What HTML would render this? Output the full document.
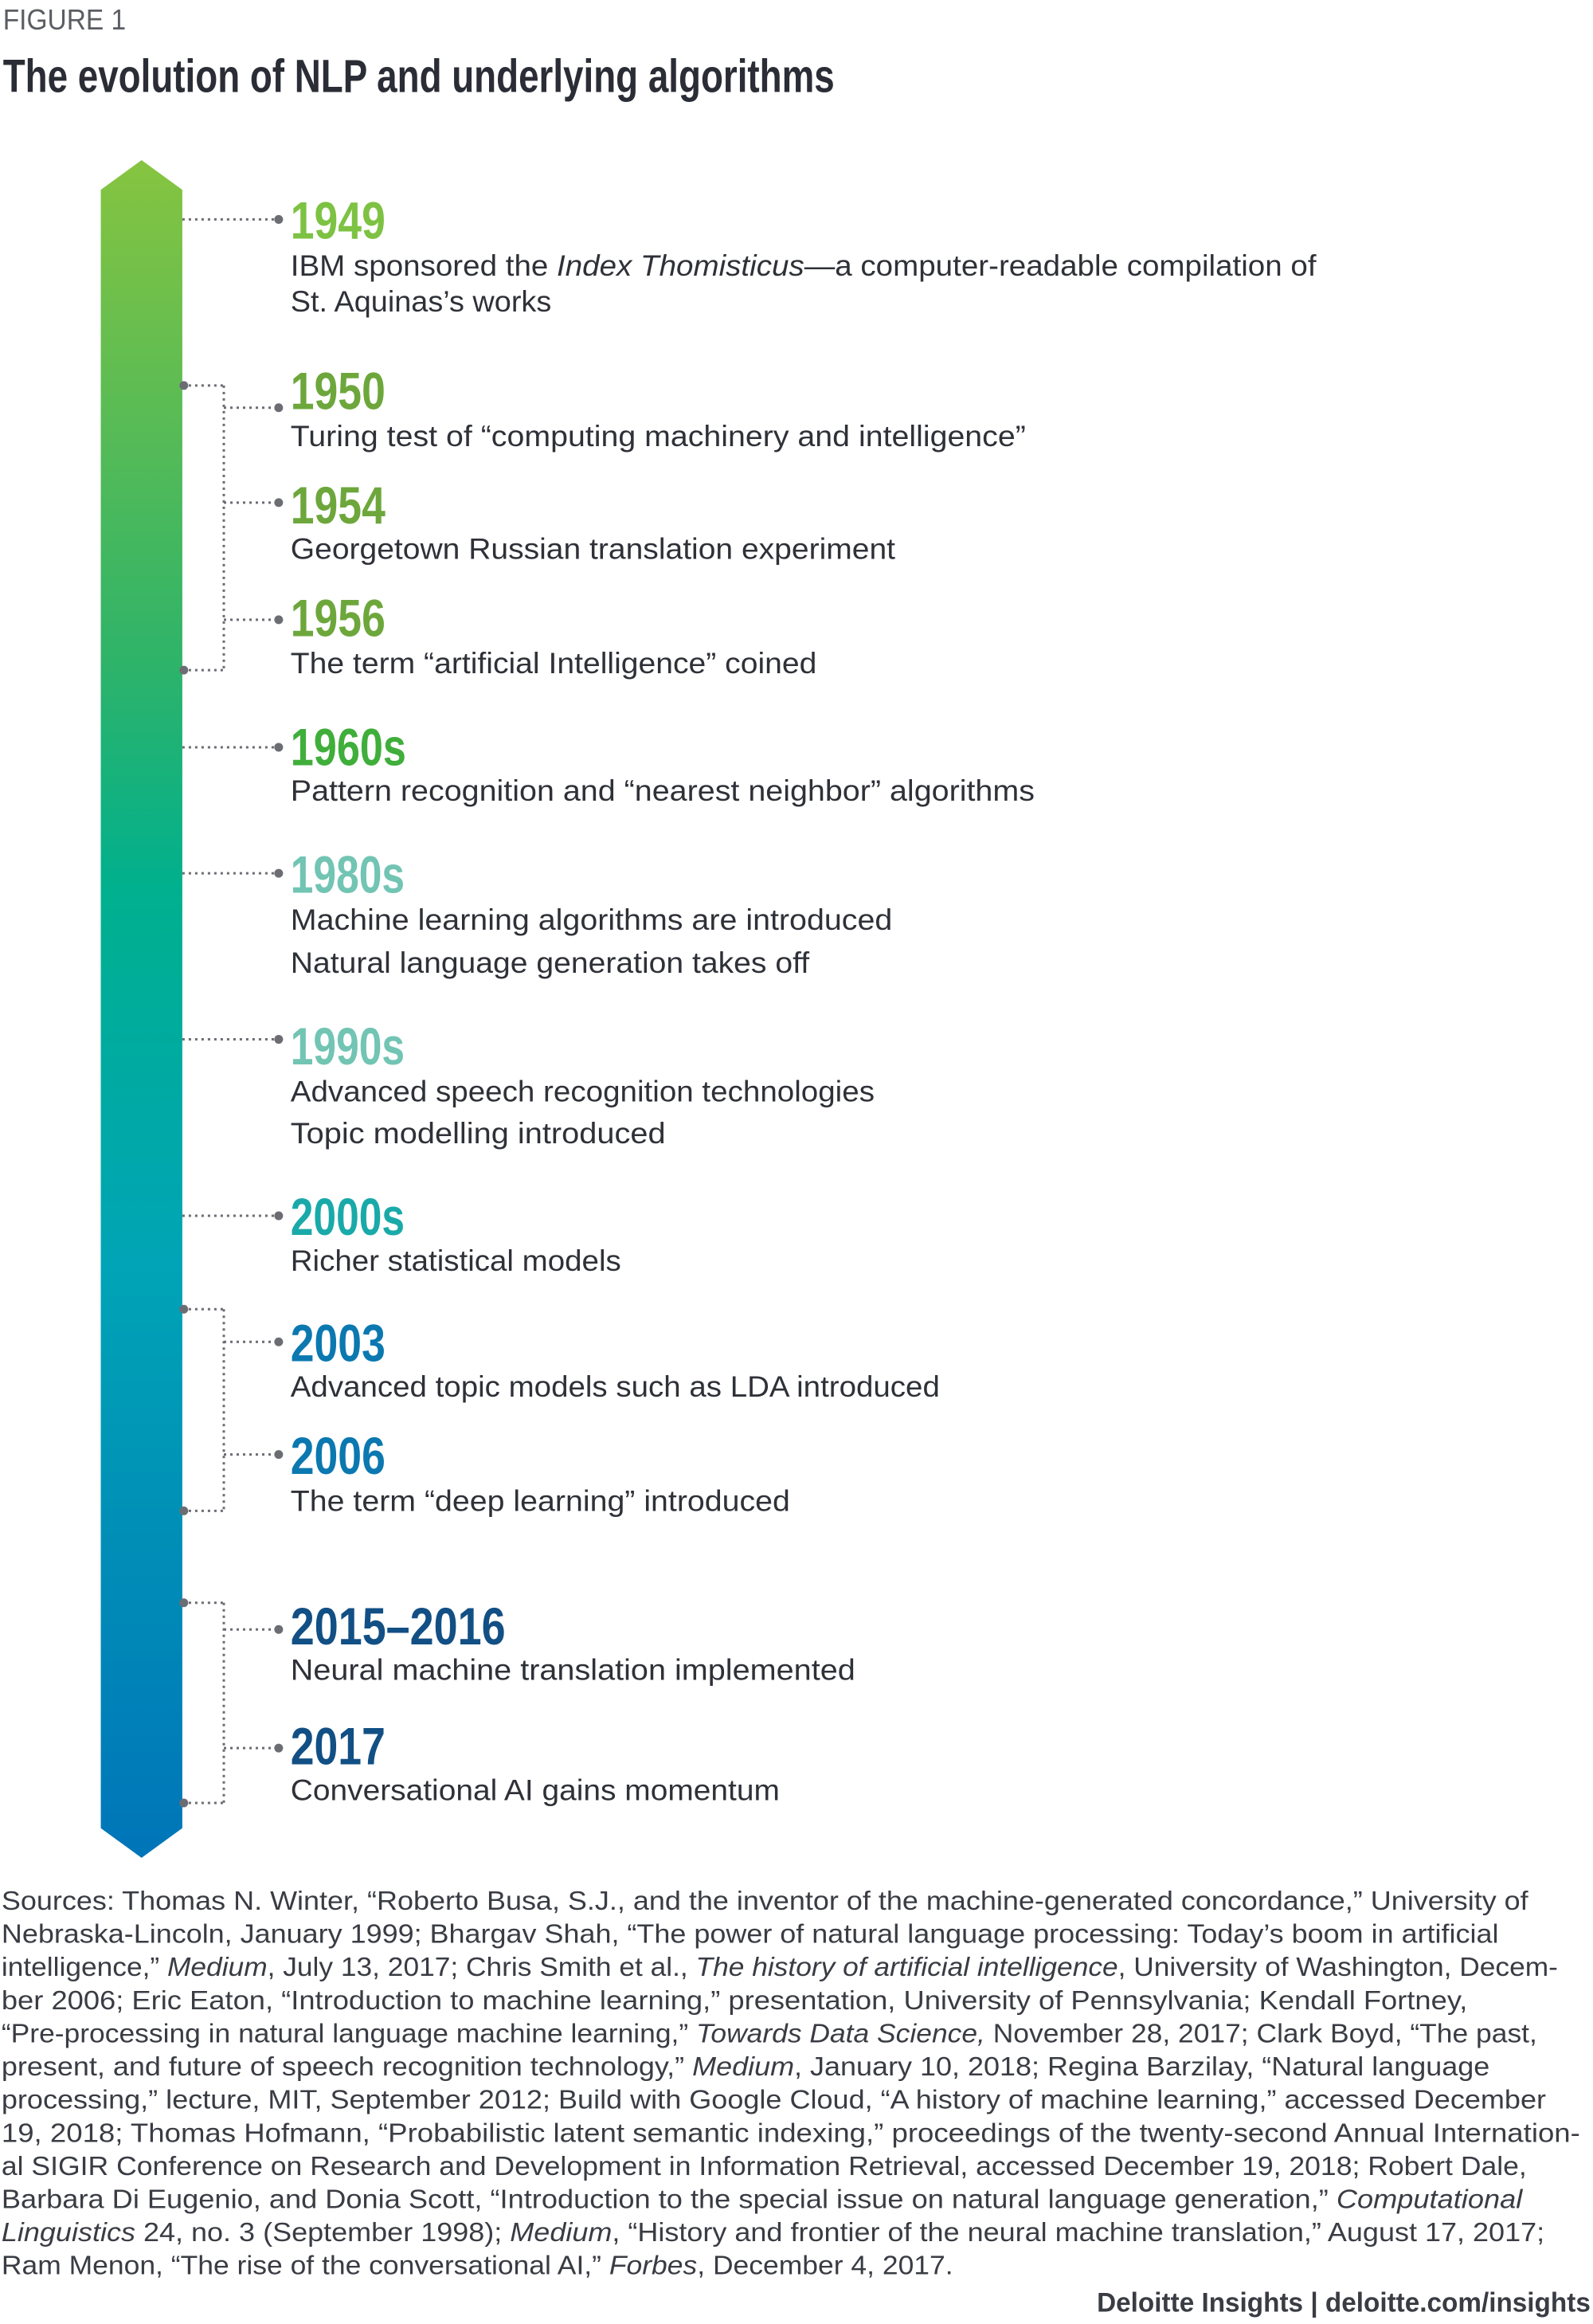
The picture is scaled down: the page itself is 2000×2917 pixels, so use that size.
<!DOCTYPE html>
<html><head><meta charset="utf-8"><style>
html,body{margin:0;padding:0;background:#fff;}
svg{display:block;}
text{font-family:"Liberation Sans",sans-serif;}
</style></head><body>
<svg id="fig" width="2000" height="2917" viewBox="0 0 2000 2917" xmlns="http://www.w3.org/2000/svg">
<defs>
<linearGradient id="barGrad" x1="0" y1="0" x2="0" y2="1">
<stop offset="0" stop-color="#86c440"/>
<stop offset="0.3" stop-color="#2db36a"/>
<stop offset="0.43" stop-color="#00b08e"/>
<stop offset="0.65" stop-color="#00a4b6"/>
<stop offset="1" stop-color="#0075b8"/>
</linearGradient>
</defs>
<g id="static"></g>
<g id="connectors"></g>
<g id="entries"></g>
</svg>
<script>
const S = 1.861;
const years = ["1949","1950","1954","1956","1960s","1980s","1990s","2000s","2003","2006","2015–2016","2017"];
const yearColors = ["#7dc242","#6da73c","#6da73c","#6da73c","#3fae3a","#72c4b3","#72c4b3","#1aa9a9","#0b78b0","#0b78b0","#124f84","#124f84"];
const yearBaselines = [161,276,353,429,516,602,718,833,918,994,1109,1190];
const yearWidths = [64,64,64,64,78,77,77,77,64,64,145,64];
const descriptions = [
 [["IBM sponsored the ",["Index Thomisticus",1],"—a computer-readable compilation of"],["St. Aquinas’s works"]],
 [["Turing test of “computing machinery and intelligence”"]],
 [["Georgetown Russian translation experiment"]],
 [["The term “artificial Intelligence” coined"]],
 [["Pattern recognition and “nearest neighbor” algorithms"]],
 [["Machine learning algorithms are introduced"],["Natural language generation takes off"]],
 [["Advanced speech recognition technologies"],["Topic modelling introduced"]],
 [["Richer statistical models"]],
 [["Advanced topic models such as LDA introduced"]],
 [["The term “deep learning” introduced"]],
 [["Neural machine translation implemented"]],
 [["Conversational AI gains momentum"]]
];
const descBaselines = [[186,210],[301],[377],[454],[540],[627,656],[743,771],[857],[942],[1019],[1133],[1214]];
const descEnds = [[888,372],[692],[604],[551],[698],[602,546],[590,449],[419],[634],[533],[577],[526]];
const singleLinks = [148,504,589,701,820];
const groups = [[260,452],[883,1019],[1081,1216]];
const groupBranches = [[275,339,418],[905,981],[1099,1179]];
const sourceLines = [
 ["Sources: Thomas N. Winter, “Roberto Busa, S.J., and the inventor of the machine-generated concordance,” University of"],
 ["Nebraska-Lincoln, January 1999; Bhargav Shah, “The power of natural language processing: Today’s boom in artificial"],
 ["intelligence,” ",["Medium",1],", July 13, 2017; Chris Smith et al., ",["The history of artificial intelligence",1],", University of Washington, Decem-"],
 ["ber 2006; Eric Eaton, “Introduction to machine learning,” presentation, University of Pennsylvania; Kendall Fortney,"],
 ["“Pre-processing in natural language machine learning,” ",["Towards Data Science,",1]," November 28, 2017; Clark Boyd, “The past,"],
 ["present, and future of speech recognition technology,” ",["Medium",1],", January 10, 2018; Regina Barzilay, “Natural language"],
 ["processing,” lecture, MIT, September 2012; Build with Google Cloud, “A history of machine learning,” accessed December"],
 ["19, 2018; Thomas Hofmann, “Probabilistic latent semantic indexing,” proceedings of the twenty-second Annual Internation-"],
 ["al SIGIR Conference on Research and Development in Information Retrieval, accessed December 19, 2018; Robert Dale,"],
 ["Barbara Di Eugenio, and Donia Scott, “Introduction to the special issue on natural language generation,” ",["Computational",1]],
 [["Linguistics",1]," 24, no. 3 (September 1998); ",["Medium",1],", “History and frontier of the neural machine translation,” August 17, 2017;"],
 ["Ram Menon, “The rise of the conversational AI,” ",["Forbes",1],", December 4, 2017."]
];
const sourceEnds = [1031,1011,1051,990,1037,1005,1043,1066,1030,1027,1042,643];
const NS = "http://www.w3.org/2000/svg";
function mk(tag, attrs, parent){const e=document.createElementNS(NS,tag);for(const k in attrs)e.setAttribute(k,attrs[k]);parent.appendChild(e);return e;}
function fillParts(t, parts){
  parts.forEach(p=>{const ts=document.createElementNS(NS,"tspan");
    if(Array.isArray(p)){ts.textContent=p[0];ts.setAttribute("font-style","italic");}else ts.textContent=p;
    t.appendChild(ts);});
}
const st = document.getElementById("static");
const fl = mk("text",{x:2*S,y:20*S,"font-size":36,fill:"#5b5d63",textLength:83*S,lengthAdjust:"spacingAndGlyphs"},st);
fl.textContent="FIGURE 1";


const ti = mk("text",{x:2*S,y:62*S,"font-size":58,"font-weight":"bold",fill:"#2b2d36",textLength:561*S,lengthAdjust:"spacingAndGlyphs"},st);
ti.textContent="The evolution of NLP and underlying algorithms";


const bar = mk("polygon",{points:[[68,128],[95.5,108],[123,128],[123,1233],[95.5,1253],[68,1233]].map(p=>p[0]*S+","+p[1]*S).join(" "),fill:"url(#barGrad)"},st);


const conn = document.getElementById("connectors");
const ent = document.getElementById("entries");
const barR = 123, bx = 151, tx = 188;
function dotted(x1,y1,x2,y2){
  const l = mk("line",{x1:x1*S,y1:y1*S,x2:x2*S,y2:y2*S,stroke:"#6b6d73","stroke-width":3,"stroke-dasharray":"3 5"},conn);
  
  
}
function dot(x,y){
  const c = mk("circle",{cx:x*S,cy:y*S,r:5.5,fill:"#6b6d73"},conn);
  
  
}
singleLinks.forEach(y=>{dotted(barR,y,tx,y);dot(tx,y);});
groups.forEach((g,i)=>{
  dotted(barR,g[0],bx,g[0]);dotted(bx,g[0],bx,g[1]);dotted(barR,g[1],bx,g[1]);
  dot(barR+1,g[0]);dot(barR+1,g[1]);
  groupBranches[i].forEach(y=>{dotted(bx,y,tx,y);dot(tx,y);});
});
const x0 = 196;
years.forEach((yr,i)=>{
  const t = mk("text",{x:x0*S,y:yearBaselines[i]*S,"font-size":66,"font-weight":"bold",fill:yearColors[i],textLength:yearWidths[i]*S,lengthAdjust:"spacingAndGlyphs"},ent);
  t.textContent = yr;
  
  
  descriptions[i].forEach((line,j)=>{
    const d = mk("text",{x:x0*S,y:descBaselines[i][j]*S,"font-size":37,fill:"#2f3138",textLength:(descEnds[i][j]-x0)*S,lengthAdjust:"spacingAndGlyphs"},ent);
    fillParts(d,line);
    
    
  });
});
sourceLines.forEach((line,i)=>{
  const t = mk("text",{x:1*S,y:(1288+22.36*i)*S,"font-size":33,fill:"#3a3c44",textLength:(sourceEnds[i]-1)*S,lengthAdjust:"spacingAndGlyphs"},st);
  fillParts(t,line);
  
  
});
const ft = mk("text",{x:1073*S,y:1559*S,"font-size":34,"font-weight":"bold",fill:"#3a3c44","text-anchor":"end",textLength:333*S,lengthAdjust:"spacingAndGlyphs"},st);
ft.textContent="Deloitte Insights | deloitte.com/insights";


</script>
</body></html>
